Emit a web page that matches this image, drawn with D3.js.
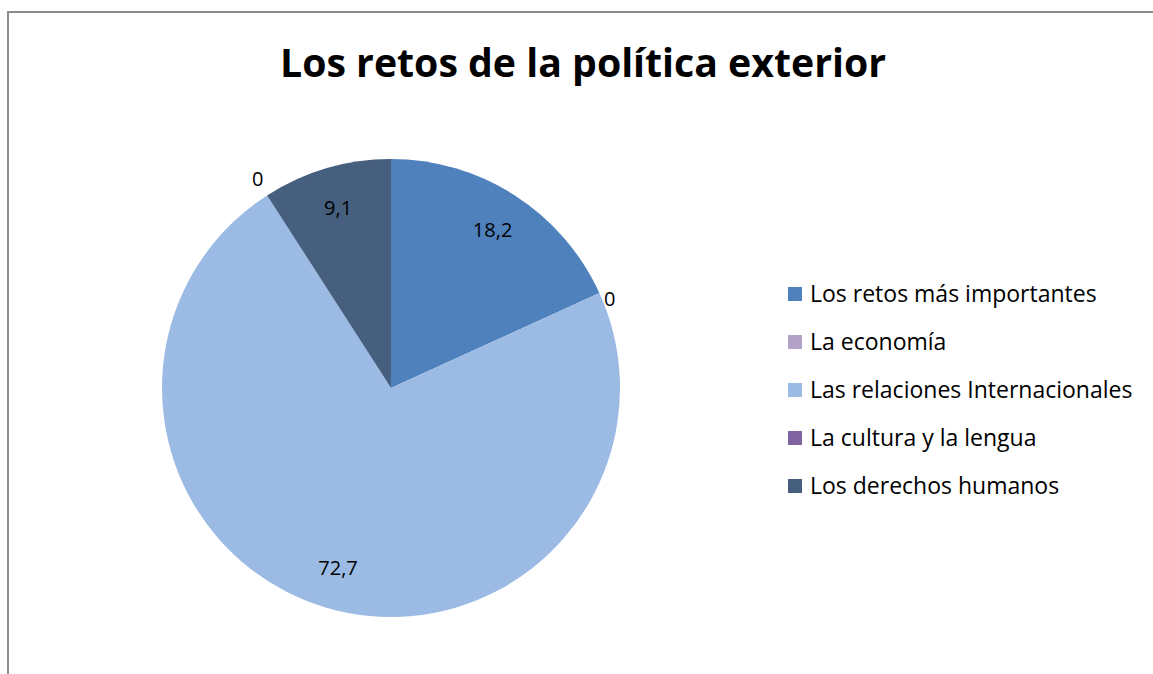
<!DOCTYPE html>
<html><head><meta charset="utf-8">
<script src="https://cdn.jsdelivr.net/npm/d3@7"></script>
<style>body{margin:0;background:#fff}svg{display:block}text{font-family:"Open Sans",Lato,sans-serif}</style>
</head><body>
<svg id="c" width="1153" height="674"></svg>
<script>
const categories = ["Los retos más importantes","La economía","Las relaciones Internacionales","La cultura y la lengua","Los derechos humanos"];
const values = [18.2, 0, 72.7, 0, 9.1];
const labels = ["18,2","0","72,7","0","9,1"];
const colors = ["#4F81BD","#B3A2C7","#9BBBE5","#8064A2","#465F7F"];
const title = "Los retos de la política exterior";

const svg = d3.select("#c");
svg.append("path").attr("d","M8,674 V12 H1153").attr("fill","none").attr("stroke","#8c8c8c").attr("stroke-width",2);

svg.append("text").attr("x",583).attr("y",77).attr("text-anchor","middle")
  .attr("font-family","Lato, sans-serif")
  .attr("font-size",40).attr("font-weight","bold").attr("fill","#000")
  .attr("textLength",606).attr("lengthAdjust","spacingAndGlyphs").text(title);

const cx=391, cy=388, R=229;
const color = d3.scaleOrdinal().domain(categories).range(colors);
const pie = d3.pie().sort(null).value(d=>d.v);
const data = pie(categories.map((c,i)=>({c, v:values[i], l:labels[i]})));
const arc = d3.arc().innerRadius(0).outerRadius(R);
const g = svg.append("g").attr("transform",`translate(${cx},${cy})`);
g.selectAll("path").data(data).join("path").attr("d",arc).attr("fill",d=>color(d.data.c));

data.forEach(d=>{
  const a=(d.startAngle+d.endAngle)/2;
  const t=g.append("text").attr("font-size",20).attr("fill","#000").text(d.data.l);
  if(d.data.v>0){
    const r=R*0.82;
    t.attr("x",Math.sin(a)*r).attr("y",-Math.cos(a)*r).attr("text-anchor","middle").attr("dy","0.35em");
  } else {
    const r=R+5;
    const x=Math.sin(a)*r, y=-Math.cos(a)*r;
    if(x>=0) t.attr("x",x).attr("y",y+15).attr("text-anchor","start");
    else t.attr("x",x-1).attr("y",y-5).attr("text-anchor","end");
  }
});

const lg = svg.append("g");
const rowY = d3.scalePoint().domain(categories).range([294,486]);
categories.forEach(c=>{
  const y=rowY(c);
  lg.append("rect").attr("x",788).attr("y",y-7).attr("width",14).attr("height",14).attr("fill",color(c));
  lg.append("text").attr("x",810).attr("y",y).attr("dy","0.35em").attr("font-size",23).attr("fill","#000").text(c);
});
</script>
</body></html>
